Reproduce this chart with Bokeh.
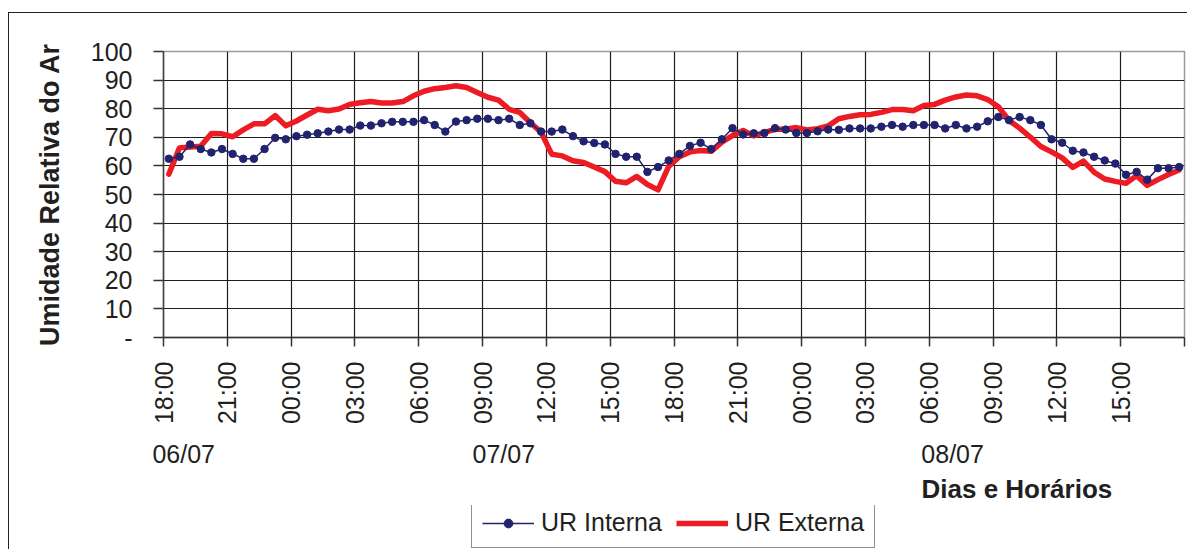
import math
from bokeh.plotting import figure
from bokeh.layouts import column
from bokeh.models import (FixedTicker, Legend, LegendItem, LinearAxis, Title,
                          InlineStyleSheet)
from bokeh.embed import file_html
from bokeh.resources import INLINE

# ---------------- data ----------------
# half-hour readings from 06/07 18:00 to 08/07 18:00 (hours counted from 06/07 00:00)
start_hour = 18.0
n_points = 96
times = [start_hour + 0.25 + 0.5 * i for i in range(n_points)]

ur_interna = [
    62.5, 63.2, 67.5, 65.9, 64.7, 65.9, 64.2, 62.5, 62.5, 65.9,
    69.8, 69.3, 70.4, 70.9, 71.4, 72.0, 72.7, 72.7, 74.1, 74.1,
    74.9, 75.4, 75.4, 75.4, 76.0, 74.3, 72.0, 75.5, 76.0, 76.5,
    76.5, 76.0,
    76.5, 74.3, 74.9, 72.0, 72.0, 72.7, 70.4, 68.6, 68.0, 67.5,
    64.2, 63.2, 63.2, 57.9, 59.6, 61.9, 64.2, 67.0, 68.1, 65.9,
    69.3, 73.2, 71.0, 71.4, 71.5, 73.2, 72.7, 71.5, 71.5, 72.1,
    72.7,
    72.6, 73.1, 73.1, 73.1, 73.7, 74.3, 73.7, 74.3, 74.3, 74.3,
    73.1, 74.3, 73.1, 73.7, 75.6, 77.1, 76.0, 77.1, 76.0, 74.3,
    69.3, 68.1, 65.3, 64.7, 63.2, 61.9, 60.8, 56.9, 57.9, 55.2,
    59.2, 59.2, 59.6,
]

ur_externa = [
    57.1, 66.3, 66.6, 66.9, 71.3, 71.2, 70.2, 72.6, 74.7, 74.7,
    77.6, 74.0, 75.7, 77.8, 79.8, 79.3, 79.9, 81.5, 82.1, 82.5,
    82.0, 82.0, 82.5, 84.5, 86.1, 87.0, 87.4, 88.0, 87.4, 85.7,
    84.0, 83.0,
    79.8, 78.7, 75.1, 71.8, 64.1, 63.5, 61.8, 61.2, 59.6, 58.0,
    54.6, 54.1, 56.3, 53.5, 51.6, 59.8, 63.2, 64.9, 65.4, 65.1,
    68.3, 70.6, 72.4, 70.5, 71.7, 72.8, 72.8, 73.4, 72.6, 73.0,
    74.0,
    76.5, 77.3, 77.9, 78.0, 78.7, 79.7, 79.7, 79.3, 81.1, 81.5,
    83.0, 84.1, 84.8, 84.5, 83.2, 80.7, 75.9, 73.2, 70.1, 66.8,
    64.9, 62.8, 59.5, 61.7, 57.8, 55.4, 54.6, 53.9, 56.6, 53.2,
    55.2, 57.0, 58.6,
]

x_tick_labels = ["18:00", "21:00", "00:00", "03:00", "06:00", "09:00",
                 "12:00", "15:00", "18:00", "21:00", "00:00", "03:00",
                 "06:00", "09:00", "12:00", "15:00"]
day_labels = ["06/07", "07/07", "08/07"]
day_label_x = [18.95, 34.0, 55.1]
y_ticks = [0, 10, 20, 30, 40, 50, 60, 70, 80, 90, 100]

series_names = ["UR Interna", "UR Externa"]
x_title = "Dias e Horários"
y_title = "Umidade Relativa do Ar"

# ---------------- styling ----------------
FONT = "Liberation Sans"
TXT = "#231f20"
BLUE = "#22236F"
RED = "#ED1C24"

x_ticks = [start_hour + 3 * i for i in range(len(x_tick_labels) + 1)]

border_css = InlineStyleSheet(css="""
:host { position: relative; }
:host::after {
  content: "";
  position: absolute;
  left: 8px; top: 12px;
  width: calc(100% - 8px); height: calc(100% - 12px);
  border-left: 1.5px solid #231f20;
  border-top: 1.5px solid #231f20;
  box-sizing: border-box;
  pointer-events: none;
  z-index: 10;
}
""")

# ---------------- main chart ----------------
p = figure(width=1187, height=505, x_range=(18, 66), y_range=(0, 100),
           output_backend="svg", toolbar_location=None,
           min_border_left=163, min_border_right=3,
           min_border_top=51, min_border_bottom=161)
p.background_fill_color = "white"
p.border_fill_color = "white"
p.outline_line_color = "#9a9a9a"
p.outline_line_width = 1.5

xa = p.xaxis[0]
xa.ticker = FixedTicker(ticks=x_ticks)
xa.major_label_overrides = {t: lab for t, lab in zip(x_ticks, x_tick_labels + [""])}
xa.major_label_orientation = math.pi / 2
xa.major_tick_out = 9
xa.major_tick_in = 0
xa.minor_tick_out = 0
xa.minor_tick_in = 0
xa.major_label_standoff = 15
xa.major_label_text_font = FONT
xa.major_label_text_font_size = "25px"
xa.major_label_text_color = TXT
xa.axis_line_color = "#333333"
xa.axis_line_width = 1.5
xa.major_tick_line_color = "#333333"
xa.major_tick_line_width = 1.5

day_axis = LinearAxis(ticker=FixedTicker(ticks=day_label_x),
                      major_label_overrides={v: d for v, d in zip(day_label_x, day_labels)},
                      axis_line_color=None, major_tick_line_color=None,
                      minor_tick_line_color=None, major_tick_out=0,
                      major_tick_in=0, minor_tick_out=0, minor_tick_in=0,
                      major_label_standoff=12, major_label_text_font=FONT,
                      major_label_text_font_size="25px",
                      major_label_text_color=TXT)
p.add_layout(day_axis, "below")

p.add_layout(Title(text=x_title, align="left", offset=758, standoff=3,
                   text_font=FONT, text_font_size="26px",
                   text_font_style="bold", text_color=TXT), "below")

ya = p.yaxis[0]
ya.ticker = FixedTicker(ticks=y_ticks)
ya.major_label_overrides = {0: "-"}
ya.major_tick_out = 10
ya.major_tick_in = 0
ya.minor_tick_out = 0
ya.minor_tick_in = 0
ya.major_label_standoff = 21
ya.major_label_text_font = FONT
ya.major_label_text_font_size = "25px"
ya.major_label_text_color = TXT
ya.axis_line_color = "#444444"
ya.axis_line_width = 1.5
ya.major_tick_line_color = "#333333"
ya.major_tick_line_width = 1.5
ya.axis_label = y_title
ya.axis_label_text_font = FONT
ya.axis_label_text_font_size = "27px"
ya.axis_label_text_font_style = "bold"
ya.axis_label_text_color = TXT
ya.axis_label_standoff = 23

p.xgrid.ticker = FixedTicker(ticks=x_ticks)
p.ygrid.ticker = FixedTicker(ticks=y_ticks)
for g in (p.xgrid[0], p.ygrid[0]):
    g.grid_line_color = "#1e1e1e"
    g.grid_line_width = 1.2
    g.grid_line_alpha = 1.0

p.line(times, ur_externa, line_color=RED, line_width=5.5,
       line_join="round", line_cap="round")
p.line(times, ur_interna, line_color=BLUE, line_width=1.5)
p.scatter(times, ur_interna, marker="circle", size=7.5,
          fill_color=BLUE, line_color=BLUE)

# ---------------- legend strip ----------------
lf = figure(width=1187, height=44, x_range=(0, 1), y_range=(0, 1),
            output_backend="svg", toolbar_location=None,
            x_axis_type=None, y_axis_type=None,
            min_border_left=0, min_border_right=0,
            min_border_top=0, min_border_bottom=0)
lf.grid.visible = False
lf.outline_line_color = None
lf.background_fill_color = "white"
lf.border_fill_color = "white"
# legend keys (drawn outside the visible range; only their styles are used)
k_line = lf.line([-5, -4], [-5, -5], line_color=BLUE, line_width=1.5)
k_pts = lf.scatter([-5], [-5], marker="circle", size=6, fill_color=BLUE, line_color=BLUE)
k_red = lf.line([-5, -4], [-5, -5], line_color=RED, line_width=5.5)

legend = Legend(items=[
    LegendItem(label=series_names[0], renderers=[k_line, k_pts], index=0),
    LegendItem(label=series_names[1], renderers=[k_red], index=0),
], location=(308, 1), orientation="horizontal", margin=0, padding=10,
    spacing=14, glyph_width=52, glyph_height=22, label_height=22,
    label_standoff=7, label_text_font=FONT, label_text_font_size="25px",
    label_text_color=TXT, border_line_color="#231f20", border_line_width=1.5,
    background_fill_color="white", background_fill_alpha=1.0)
lf.add_layout(legend)

layout = column(p, lf, spacing=0)
layout.stylesheets = [border_css]

open("out.html", "w").write(file_html(layout, INLINE))
